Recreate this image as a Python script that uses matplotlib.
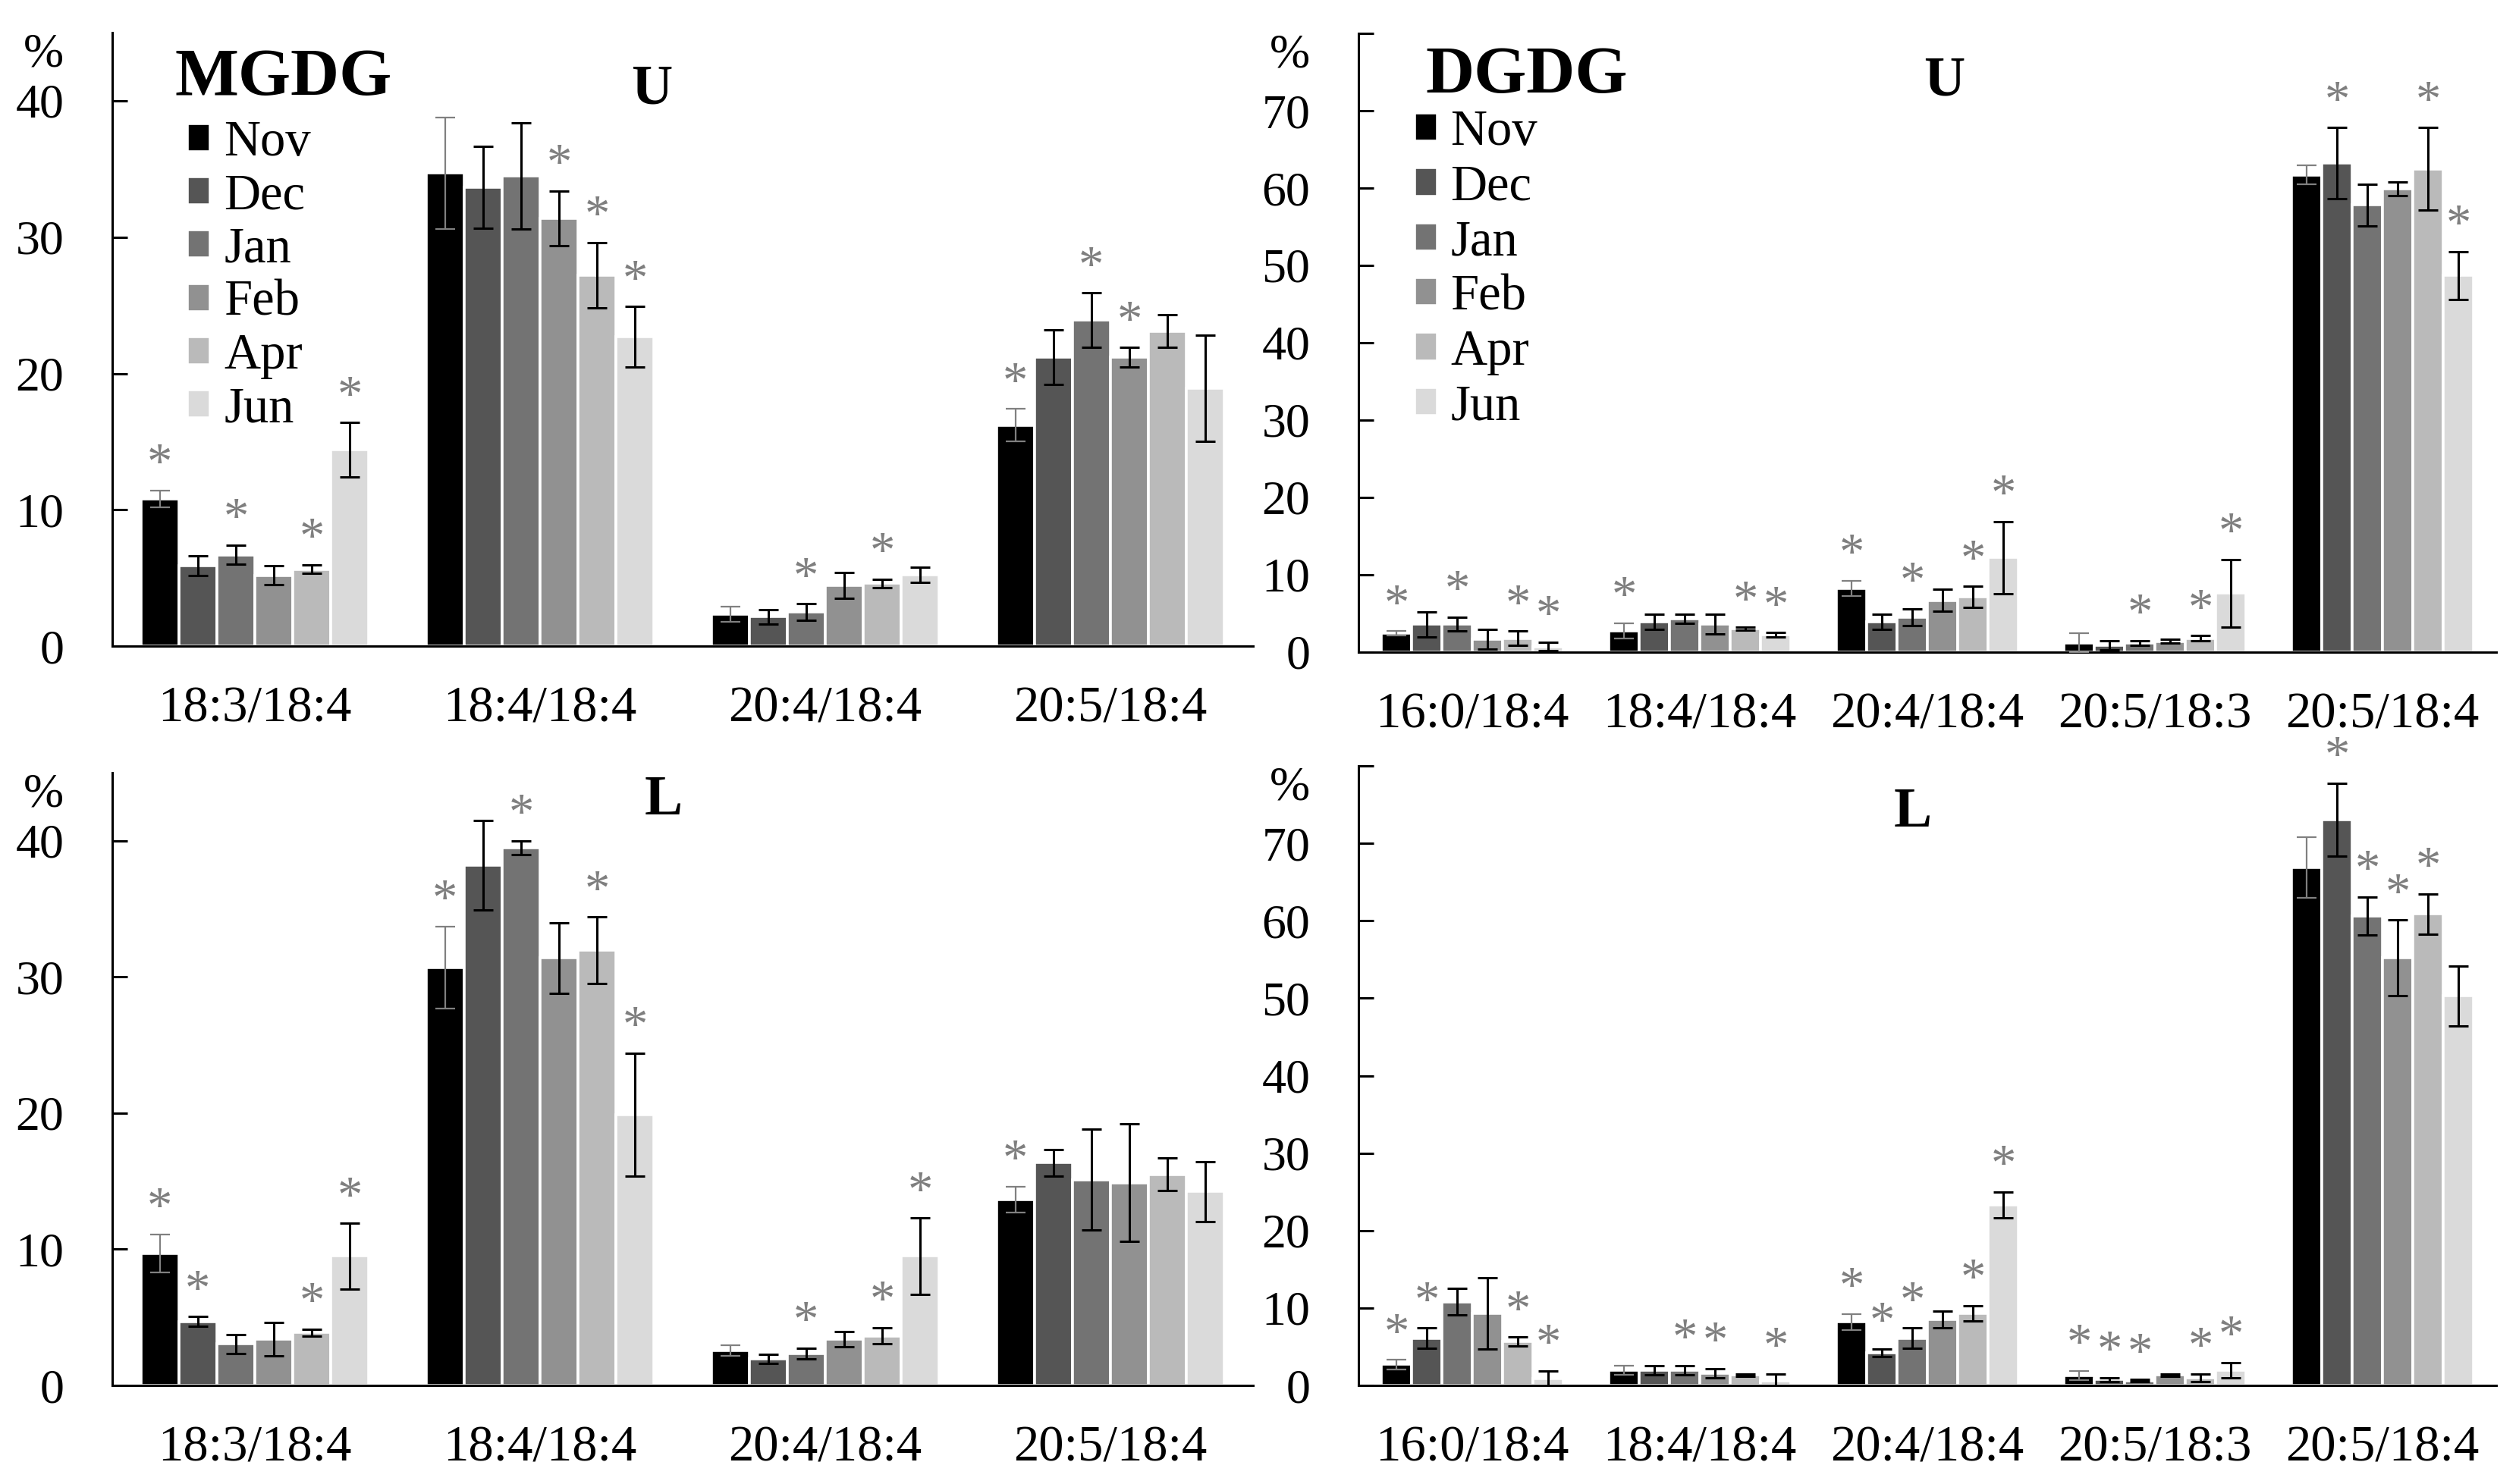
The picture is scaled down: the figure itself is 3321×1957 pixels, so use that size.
import numpy as np
import matplotlib.pyplot as plt

plt.rcParams['font.family'] = ['Liberation Serif', 'DejaVu Serif']

months = ['Nov', 'Dec', 'Jan', 'Feb', 'Apr', 'Jun']
colors = ['#000000', '#555555', '#737373', '#919191', '#bababa', '#dadada']

mgdg_cats = ['18:3/18:4', '18:4/18:4', '20:4/18:4', '20:5/18:4']
dgdg_cats = ['16:0/18:4', '18:4/18:4', '20:4/18:4', '20:5/18:3', '20:5/18:4']

# rows = fatty acid pairs, columns = months (Nov .. Jun)
mgdg_u_mean = [[10.8, 5.9, 6.7, 5.2, 5.65, 14.4],
               [34.7, 33.65, 34.5, 31.4, 27.2, 22.7],
               [2.35, 2.15, 2.5, 4.45, 4.6, 5.25],
               [16.2, 21.2, 23.9, 21.2, 23.1, 18.9]]
mgdg_u_err = [[0.6, 0.7, 0.7, 0.7, 0.3, 2.0],
              [4.1, 3.0, 3.9, 2.0, 2.4, 2.2],
              [0.55, 0.55, 0.6, 0.95, 0.3, 0.55],
              [1.2, 2.0, 2.0, 0.7, 1.2, 3.9]]
mgdg_u_sig = [[1, 0, 1, 0, 1, 1],
              [0, 0, 0, 1, 1, 1],
              [0, 0, 1, 0, 1, 0],
              [1, 0, 1, 1, 0, 0]]

dgdg_u_mean = [[2.4, 3.6, 3.6, 1.65, 1.8, 0.7],
               [2.75, 3.9, 4.3, 3.6, 3.0, 2.25],
               [8.2, 3.9, 4.5, 6.7, 7.15, 12.2],
               [1.2, 0.9, 1.2, 1.4, 1.8, 7.6],
               [61.7, 63.2, 57.8, 59.9, 62.5, 48.7]]
dgdg_u_err = [[0.3, 1.6, 0.9, 1.3, 0.9, 0.55],
              [1.0, 1.0, 0.6, 1.3, 0.2, 0.25],
              [1.0, 1.0, 1.1, 1.4, 1.35, 4.7],
              [1.2, 0.6, 0.3, 0.25, 0.3, 4.4],
              [1.2, 4.6, 2.7, 0.9, 5.3, 3.1]]
dgdg_u_sig = [[1, 0, 1, 0, 1, 1],
              [1, 0, 0, 0, 1, 1],
              [1, 0, 1, 0, 1, 1],
              [0, 0, 1, 0, 1, 1],
              [0, 1, 0, 0, 1, 1]]

mgdg_l_mean = [[9.7, 4.7, 3.05, 3.4, 3.9, 9.5],
               [30.7, 38.2, 39.5, 31.4, 31.95, 19.9],
               [2.55, 1.95, 2.35, 3.4, 3.65, 9.5],
               [13.65, 16.35, 15.1, 14.9, 15.5, 14.25]]
mgdg_l_err = [[1.4, 0.35, 0.7, 1.2, 0.25, 2.4],
              [3.0, 3.3, 0.5, 2.6, 2.45, 4.5],
              [0.4, 0.35, 0.4, 0.55, 0.6, 2.8],
              [0.95, 0.95, 3.7, 4.3, 1.2, 2.2]]
mgdg_l_sig = [[1, 1, 0, 0, 1, 1],
              [1, 0, 1, 0, 1, 1],
              [0, 0, 1, 0, 1, 1],
              [1, 0, 0, 0, 0, 0]]

dgdg_l_mean = [[2.7, 6.1, 10.8, 9.3, 5.65, 0.9],
               [1.95, 1.95, 1.95, 1.6, 1.35, 0.6],
               [8.2, 4.2, 6.1, 8.5, 9.3, 23.3],
               [1.25, 0.75, 0.6, 1.35, 1.0, 1.95],
               [66.85, 73.05, 60.6, 55.2, 60.9, 50.3]]
dgdg_l_err = [[0.6, 1.3, 1.7, 4.6, 0.6, 1.0],
              [0.6, 0.6, 0.6, 0.6, 0.15, 0.9],
              [1.0, 0.5, 1.3, 1.1, 1.0, 1.7],
              [0.6, 0.25, 0.15, 0.15, 0.5, 1.0],
              [3.9, 4.7, 2.45, 4.9, 2.6, 3.9]]
dgdg_l_sig = [[1, 1, 0, 0, 1, 1],
              [0, 0, 1, 1, 0, 1],
              [1, 1, 1, 0, 1, 1],
              [1, 1, 1, 0, 1, 1],
              [0, 1, 1, 1, 1, 0]]


def draw_panel(ax, cats, mean, err, sig, ymax, yticks):
    mean = np.array(mean)
    err = np.array(err)
    sig = np.array(sig)
    x = np.arange(len(cats))
    w = 0.8 / len(months)
    for j, m in enumerate(months):
        xs = x + (j - 2.5) * w
        ax.bar(xs, mean[:, j], width=w, color=colors[j], edgecolor='white',
               linewidth=1.3, label=m, zorder=2)
        ecol = '#808080' if j == 0 else 'black'
        elw = 0.8 if j == 0 else 1.1
        ax.errorbar(xs, mean[:, j], yerr=err[:, j], fmt='none', ecolor=ecol,
                    elinewidth=elw, capsize=4.7, capthick=elw, zorder=3)
        for i in range(len(cats)):
            if sig[i, j]:
                ax.annotate('*', (xs[i], mean[i, j] + err[i, j]),
                            xytext=(0, 6), textcoords='offset points',
                            ha='center', va='baseline', fontsize=24,
                            color='#7f7f7f', zorder=4)
    ax.set_xlim(-0.5, len(cats) - 0.5)
    ax.set_ylim(0, ymax)
    ax.set_xticks(x)
    ax.set_xticklabels(cats, fontsize=24)
    ax.set_yticks(yticks)
    ax.set_yticklabels([str(t) for t in yticks], fontsize=23)
    ax.tick_params(axis='x', length=0, pad=19)
    ax.tick_params(axis='y', direction='in', length=7.3, width=1.1, pad=23)
    for s in ['top', 'right']:
        ax.spines[s].set_visible(False)
    for s in ['left', 'bottom']:
        ax.spines[s].set_linewidth(1.1)
    ax.annotate('%', (0, 1), xycoords='axes fraction', xytext=(-23, 0),
                textcoords='offset points', ha='right', va='top', fontsize=23)


fig = plt.figure(figsize=(16.605, 9.785), dpi=200)
ax1 = fig.add_axes([0.0446, 0.5646, 0.4528, 0.4134])
ax2 = fig.add_axes([0.5393, 0.5606, 0.4517, 0.4169])
ax3 = fig.add_axes([0.0446, 0.0664, 0.4528, 0.4129])
ax4 = fig.add_axes([0.5393, 0.0664, 0.4517, 0.4175])

draw_panel(ax1, mgdg_cats, mgdg_u_mean, mgdg_u_err, mgdg_u_sig, 45, list(range(0, 41, 10)))
draw_panel(ax2, dgdg_cats, dgdg_u_mean, dgdg_u_err, dgdg_u_sig, 80, list(range(0, 71, 10)))
draw_panel(ax3, mgdg_cats, mgdg_l_mean, mgdg_l_err, mgdg_l_sig, 45, list(range(0, 41, 10)))
draw_panel(ax4, dgdg_cats, dgdg_l_mean, dgdg_l_err, dgdg_l_sig, 80, list(range(0, 71, 10)))

# top tick of the DGDG axes (no label, % sits there)
for ax in [ax2, ax4]:
    ax.set_yticks(list(range(0, 81, 10)))
    ax.set_yticklabels([str(t) for t in range(0, 71, 10)] + [''], fontsize=23)

ax1.text(0.0545, 0.899, 'MGDG', transform=ax1.transAxes, fontsize=32,
         fontweight='bold', ha='left', va='baseline')
ax2.text(0.059, 0.904, 'DGDG', transform=ax2.transAxes, fontsize=32,
         fontweight='bold', ha='left', va='baseline')
ax1.text(0.473, 0.884, 'U', transform=ax1.transAxes, fontsize=27,
         fontweight='bold', ha='center', va='baseline')
ax2.text(0.515, 0.900, 'U', transform=ax2.transAxes, fontsize=27,
         fontweight='bold', ha='center', va='baseline')
ax3.text(0.483, 0.932, 'L', transform=ax3.transAxes, fontsize=27,
         fontweight='bold', ha='center', va='baseline')
ax4.text(0.487, 0.902, 'L', transform=ax4.transAxes, fontsize=27,
         fontweight='bold', ha='center', va='baseline')

leg_kw = dict(loc='upper left', frameon=False, fontsize=24, borderpad=0,
              borderaxespad=0, handlelength=0.45, handleheight=0.48,
              handletextpad=0.27)
ax1.legend(bbox_to_anchor=(0.066, 0.858), labelspacing=0.14, **leg_kw)
ax2.legend(bbox_to_anchor=(0.049, 0.877), labelspacing=0.17, **leg_kw)

fig.savefig('out.png', dpi=200)
